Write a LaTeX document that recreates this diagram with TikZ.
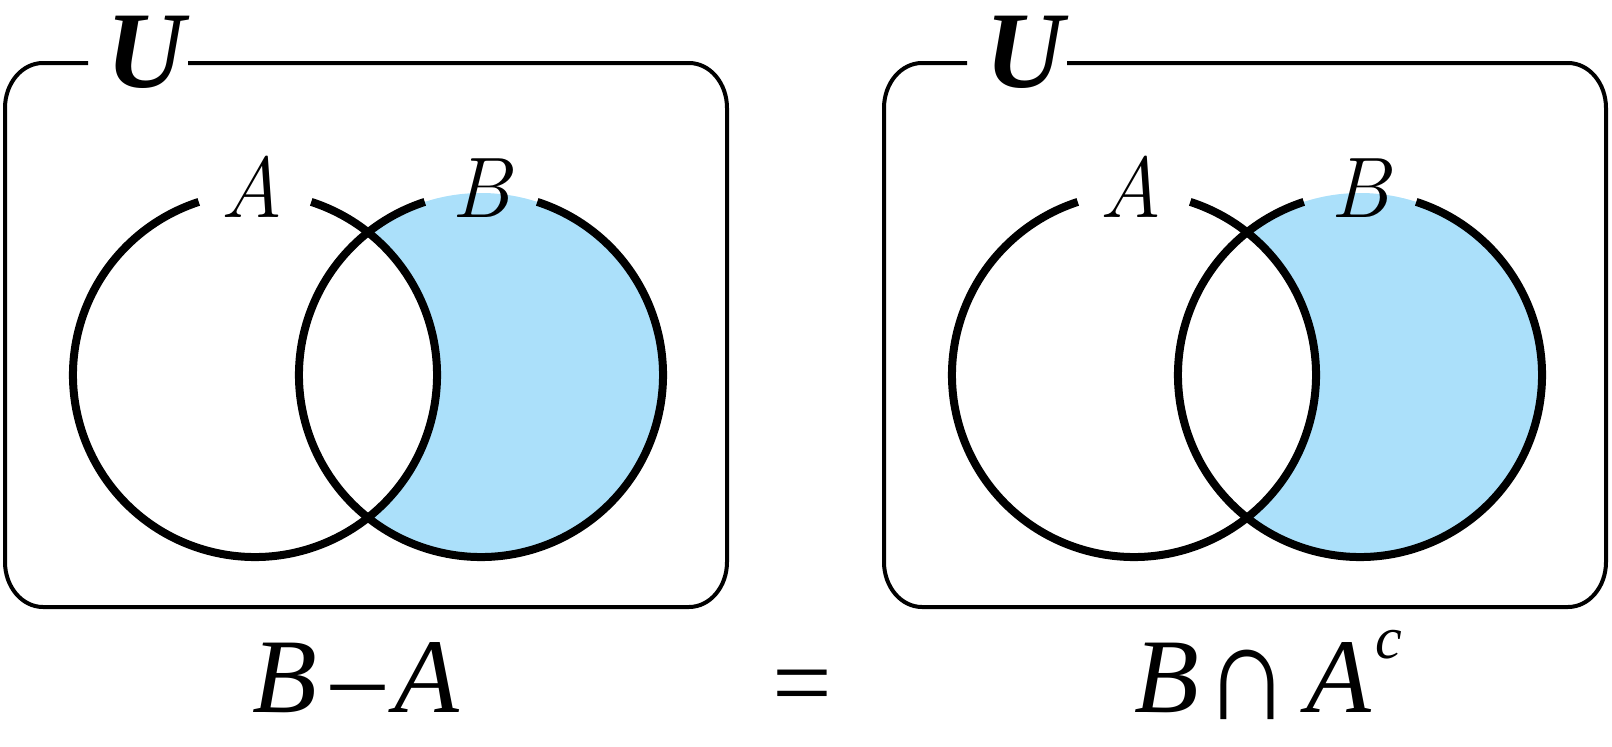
\documentclass[tikz,border=0pt]{standalone}
\usepackage{fontspec}
\usepackage{graphicx}
\newfontfamily\tnr{Liberation Serif}
\definecolor{setfill}{RGB}{171,224,250}
\tikzset{
  setline/.style={line width=8pt, line cap=butt},
  boxline/.style={line width=4pt, line join=round},
  lbl/.style={inner sep=0pt, anchor=base},
  setname/.style={lbl, font=\fontsize{86}{86}\selectfont\itshape},
  uname/.style={lbl, font=\tnr\fontsize{109}{109}\selectfont\bfseries\itshape},
  formula/.style={lbl, font=\tnr\fontsize{106}{106}\selectfont},
  corner/.style={x radius=38, y radius=45}
}
\begin{document}
\begin{tikzpicture}[x=1pt,y=-1pt]
\useasboundingbox (0,0) rectangle (1612,747);
\foreach \p/\dx in {L/0,R/879}{
\begin{scope}[xshift=\dx pt]
  \coordinate (cA\p) at (255,375);
  \coordinate (cB\p) at (481,375);
  % universe box with gap for the label
  \draw[boxline] (188,63) -- (689,63)
      arc[start angle=270,end angle=360,corner] -- (727,562)
      arc[start angle=0,end angle=90,corner] -- (43,607)
      arc[start angle=90,end angle=180,corner] -- (5,108)
      arc[start angle=180,end angle=270,corner] -- (88,63);
  \node[uname] (U\p) at (146,87) {U};
  % shaded region B minus A
  \begin{scope}
    \clip (cB\p) circle[radius=182];
    \fill[setfill, even odd rule] (cB\p) circle[radius=182] (cA\p) circle[radius=182];
  \end{scope}
  % circles with gaps for labels
  \draw[setline] (cA\p) ++(288:182) arc[start angle=288,end angle=612,radius=182];
  \draw[setline] (cB\p) ++(288:182) arc[start angle=288,end angle=612,radius=182];
  \node[setname] (labA\p) at (252,217) {A};
  \node[setname] (labB\p) at (481,217) {B};
\end{scope}
}
\node[formula] (diff) at (356,712) {\itshape B\kern15pt–\kern10pt A};
\node[formula] (eq) at (802,718) {=};
\node[formula] (inter) at (1268,712) {\itshape B\kern6pt\upshape\raisebox{-7pt}{\scalebox{1.12}[1.3]{∩}}\kern16pt\itshape A\kern4pt\raisebox{54pt}{\fontsize{60}{60}\selectfont c}};
\end{tikzpicture}
\end{document}
